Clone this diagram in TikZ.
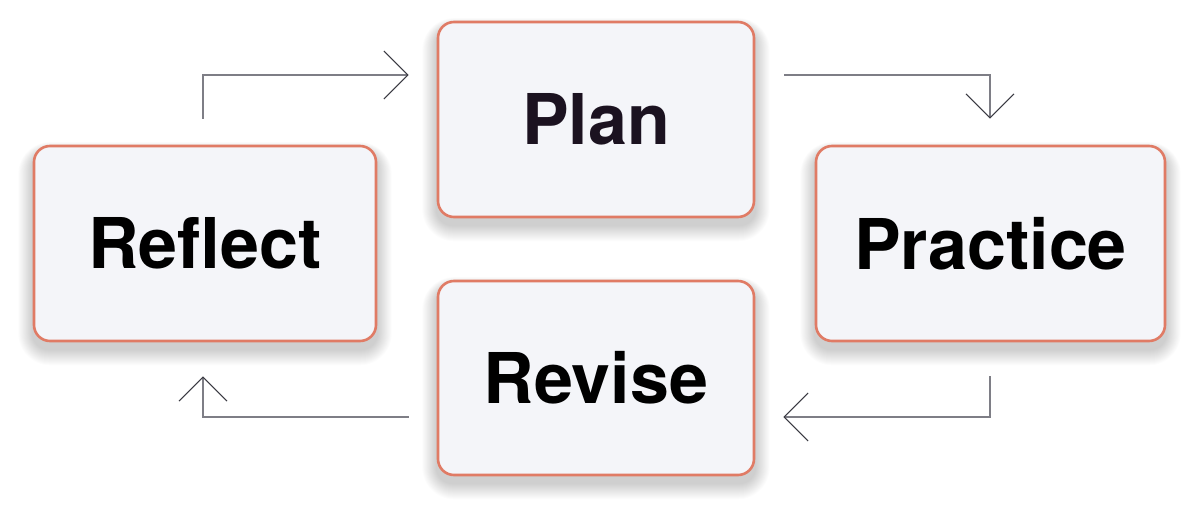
\documentclass[tikz,border=0pt]{standalone}
\usepackage{fontspec}
\setmainfont{TeX Gyre Heros}
\usetikzlibrary{arrows.meta,backgrounds,calc}
\definecolor{boxfill}{HTML}{F4F5F9}
\definecolor{boxline}{HTML}{E07B65}
\definecolor{shaft}{HTML}{7E7E86}
\definecolor{tipcol}{HTML}{3A3A42}
\definecolor{plantext}{HTML}{1B1220}
\tikzset{
  stepbox/.style={draw=boxline, line width=2.6pt, fill=boxfill, rounded corners=16pt,
    minimum height=195pt, inner sep=0pt, font=\fontsize{70}{80}\selectfont\bfseries},
  conn/.style={draw=shaft, line width=1.1pt,
    -{Straight Barb[length=24pt, width=48pt, line width=1.1pt, color=tipcol]}},
}
\newcommand{\softshadow}[1]{%
  \foreach \i in {1,...,16}{
    \fill[black, opacity=0.012, rounded corners=16pt+\i pt]
      ($(#1.south west)+(-\i*0.9,-\i-7)$) rectangle ($(#1.north east)+(\i*0.9,\i*0.6-7)$);
  }}
\begin{document}
\begin{tikzpicture}[x=1pt,y=1pt]
\useasboundingbox (0,0) rectangle (1200,520);
\node[stepbox, minimum width=316pt, text=plantext] (plan) at (596,400.5) {Plan};
\node[stepbox, minimum width=342pt] (reflect) at (205,276.5) {Reflect};
\node[stepbox, minimum width=349pt] (practice) at (990.5,276.5) {Practice};
\node[stepbox, minimum width=316pt, minimum height=194pt] (revise) at (596,142) {Revise};
\begin{scope}[on background layer]
  \fill[white] (0,0) rectangle (1200,520);
  \softshadow{plan}
  \softshadow{reflect}
  \softshadow{practice}
  \softshadow{revise}
\end{scope}
\draw[conn] ([shift={(-2,26)}]reflect.north) |- ([shift={(-28,44.5)}]plan.west);
\draw[conn] ([shift={(29,44.5)}]plan.east) -| ([shift={(-0.5,26)}]practice.north);
\draw[conn] ([shift={(-0.5,-34)}]practice.south) |- ([shift={(28,-39)}]revise.east);
\draw[conn] ([shift={(-28,-39)}]revise.west) -| ([shift={(-2,-34)}]reflect.south);
\end{tikzpicture}
\end{document}
